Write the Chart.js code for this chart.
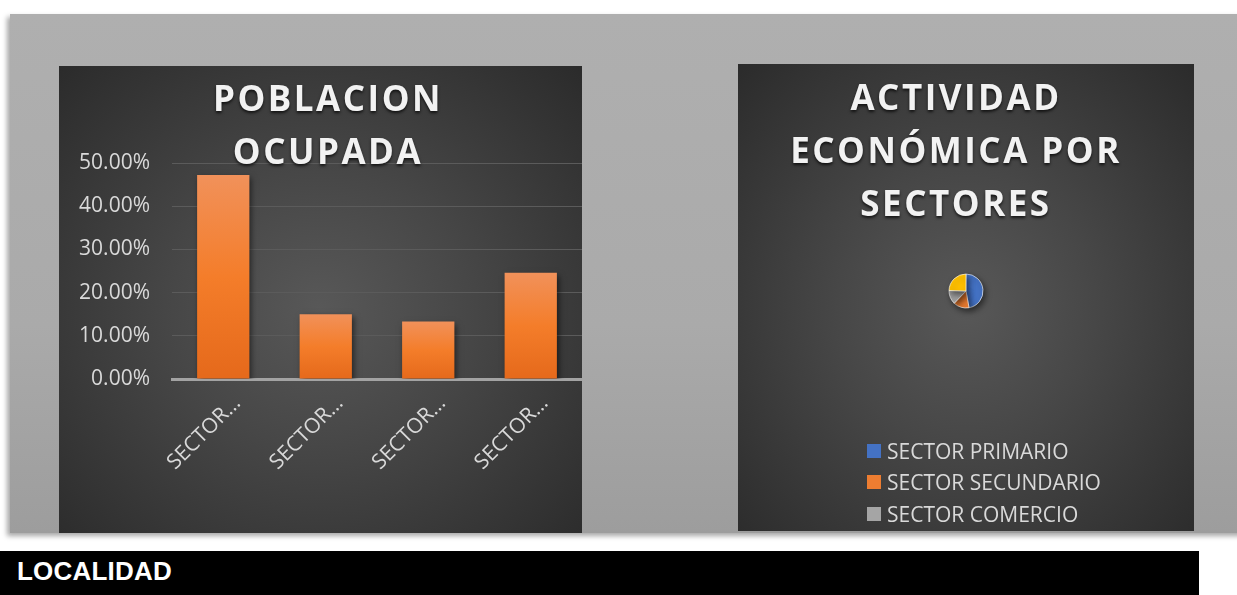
<!DOCTYPE html>
<html>
<head>
<meta charset="utf-8">
<script src="https://cdn.jsdelivr.net/npm/chart.js@4.4.1/dist/chart.umd.min.js"></script>
<style>
  html, body { margin: 0; padding: 0; background: #fff; width: 1237px; height: 595px; overflow: hidden; }
  #fondo {
    position: absolute; left: 10px; top: 14px; width: 1240px; height: 519px;
    background: linear-gradient(180deg, #afafaf 0%, #aaaaaa 60%, #9d9d9d 100%);
    box-shadow: -3px 3px 5px rgba(0,0,0,0.35);
  }
  .panel {
    position: absolute; overflow: hidden;
    background: radial-gradient(ellipse at 50% 52%, #585858 0%, #474747 40%, #2b2b2b 100%);
  }
  .titulo {
    position: absolute; width: 500px; text-align: center;
    font: 700 35px 'Open Sans', sans-serif; letter-spacing: 2.5px; line-height: 53px;
    color: #f2f2f2; text-shadow: 0 2px 3px rgba(0,0,0,0.7); white-space: nowrap;
  }
  #leyenda { position: absolute; left: 129px; top: 371px; }
  #leyenda div {
    display: flex; align-items: center; height: 31.5px; white-space: nowrap;
    font: 21px 'Open Sans', sans-serif; color: #d9d9d9;
  }
  #leyenda i { display: inline-block; width: 14px; height: 14px; margin-right: 6px; }
  #barra {
    position: absolute; left: 0; top: 551px; width: 1199px; height: 44px; background: #000;
  }
  #barra span {
    position: absolute; left: 17px; top: 5px;
    font: 700 26px 'Liberation Sans', Arial, sans-serif; color: #fff; letter-spacing: 0.2px;
  }
</style>
</head>
<body>
<div id="fondo"></div>
<div class="panel" style="left:59px;top:66px;width:523px;height:467px;">
  <canvas id="canvasbarras" width="523" height="467"></canvas>
</div>
<div class="panel" style="left:738px;top:64px;width:456px;height:467px;">
  <canvas id="canvaspie" width="456" height="467"></canvas>
  <div id="leyenda"></div>
</div>
<div class="titulo" style="left:78px;top:71px;">POBLACION<br>OCUPADA</div>
<div class="titulo" style="left:706px;top:70px;">ACTIVIDAD<br>ECONÓMICA POR<br>SECTORES</div>
<div id="barra"><span>LOCALIDAD</span></div>

<script>
// datos
var sectores = ['SECTOR PRIMARIO', 'SECTOR SECUNDARIO', 'SECTOR COMERCIO', 'SECTOR SERVICIOS'];
var poblacion = [0.472, 0.150, 0.133, 0.246];
var actividad = [0.472, 0.150, 0.133, 0.246];
var ejeY = [0, 0.1, 0.2, 0.3, 0.4, 0.5];
var coloresPie = ['#4472C4', '#ED7D31', '#A5A5A5', '#FFC000'];

Chart.defaults.font.family = "'Open Sans', sans-serif";
Chart.defaults.color = '#d9d9d9';
Chart.defaults.animation = false;
Chart.defaults.events = [];

/* sombra para barras y pastel */
var sombra = {
    id: 'sombra',
    beforeDatasetsDraw: function(chart) {
        var ctx = chart.ctx;
        ctx.save();
        ctx.shadowColor = 'rgba(0,0,0,0.55)';
        ctx.shadowBlur = 6;
        ctx.shadowOffsetX = 2;
        ctx.shadowOffsetY = 3;
    },
    afterDatasetsDraw: function(chart) {
        chart.ctx.restore();
    }
};

/* leyenda html, una fila por sector (la del excel va en columna) */
var leyendaHtml = {
    id: 'leyendaHtml',
    afterUpdate: function(chart) {
        var cont = document.getElementById('leyenda');
        var items = Chart.overrides.pie.plugins.legend.labels.generateLabels(chart);
        cont.innerHTML = '';
        items.forEach(function(it) {
            var fila = document.createElement('div');
            var caja = document.createElement('i');
            caja.style.background = it.fillStyle;
            fila.appendChild(caja);
            fila.appendChild(document.createTextNode(it.text));
            cont.appendChild(fila);
        });
    }
};

function degradado(context) {
    var chart = context.chart;
    if (!chart.chartArea) return '#F47D2B';
    var y = chart.scales.y;
    var arriba = y.getPixelForValue(context.raw);
    var abajo = y.getPixelForValue(0);
    var g = chart.ctx.createLinearGradient(0, arriba, 0, abajo);
    g.addColorStop(0, '#F1915A');
    g.addColorStop(0.5, '#F47D2A');
    g.addColorStop(1, '#E5691B');
    return g;
}

var barras = new Chart(document.getElementById('canvasbarras').getContext('2d'), {
    type: 'bar',
    data: {
        labels: sectores,
        datasets: [{
            data: poblacion,
            backgroundColor: degradado,
            barPercentage: 0.51,
            categoryPercentage: 1.0
        }]
    },
    options: {
        responsive: false,
        layout: { padding: { top: 97, left: 0, right: 0, bottom: 0 } },
        plugins: { legend: { display: false }, tooltip: { enabled: false } },
        scales: {
            x: {
                grid: { display: false },
                border: { color: '#a3a3a3', width: 3 },
                afterFit: function(scale) { scale.height = 154; },
                ticks: {
                    font: { size: 21 },
                    color: '#d9d9d9',
                    minRotation: 45, maxRotation: 45,
                    padding: 4,
                    labelOffset: 14,
                    autoSkip: false,
                    callback: function(v, i) { return sectores[i].split(' ')[0] + '…'; }
                }
            },
            y: {
                min: ejeY[0], max: ejeY[ejeY.length - 1],
                afterFit: function(scale) { scale.width = 113; },
                afterBuildTicks: function(scale) {
                    scale.ticks = ejeY.map(function(v) { return { value: v }; });
                },
                border: { display: false },
                grid: {
                    drawTicks: false,
                    color: function(c) { return c.tick && c.tick.value === 0 ? 'rgba(0,0,0,0)' : '#5b5b5b'; },
                    lineWidth: 1
                },
                ticks: {
                    font: { size: 21 },
                    color: '#d9d9d9',
                    padding: 22,
                    callback: function(v) { return (v * 100).toFixed(2) + '%'; }
                }
            }
        }
    },
    plugins: [sombra]
});

var pie = new Chart(document.getElementById('canvaspie').getContext('2d'), {
    type: 'pie',
    data: {
        labels: sectores,
        datasets: [{
            data: actividad,
            backgroundColor: coloresPie,
            borderColor: 'rgba(255,255,255,0.8)',
            borderWidth: 0.8,
            radius: 17
        }]
    },
    options: {
        responsive: false,
        layout: { padding: { top: 0, left: 0, right: 0, bottom: 13 } },
        plugins: {
            tooltip: { enabled: false },
            legend: { display: false }
        }
    },
    plugins: [sombra, leyendaHtml]
});
</script>
</body>
</html>
